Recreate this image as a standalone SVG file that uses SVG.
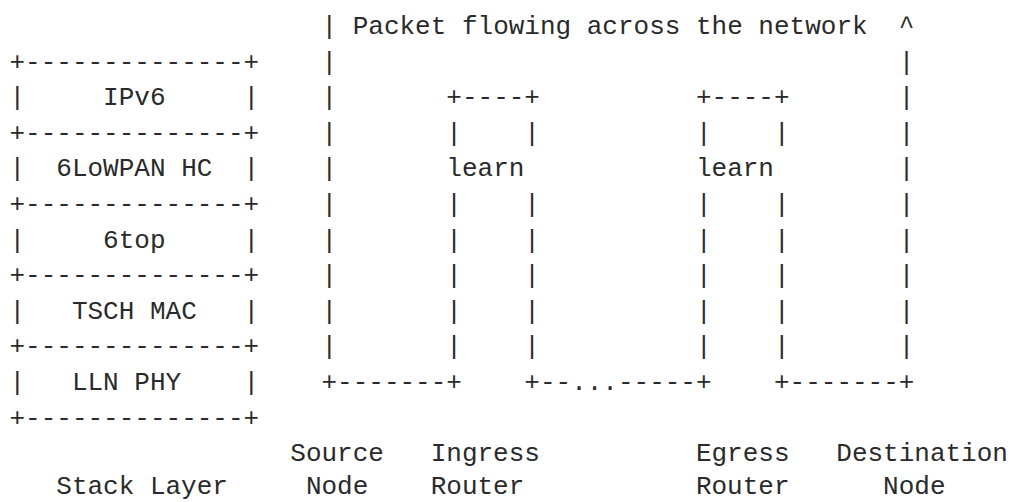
<svg xmlns="http://www.w3.org/2000/svg" width="1011" height="502" viewBox="0 0 1011 502">
<style>
text{font-family:"Liberation Mono","DejaVu Sans Mono",monospace;font-size:26px;fill:#2a2a2a;white-space:pre}
</style>
<rect width="1011" height="502" fill="#ffffff"/>
<g id="stack-layer" xml:space="preserve">
<text x="9.5" y="69.6">+--------------+</text>
<text x="9.5" y="105.2">|     IPv6     |</text>
<text x="9.5" y="140.8">+--------------+</text>
<text x="9.5" y="176.4">|  6LoWPAN HC  |</text>
<text x="9.5" y="212">+--------------+</text>
<text x="9.5" y="247.6">|     6top     |</text>
<text x="9.5" y="283.2">+--------------+</text>
<text x="9.5" y="318.8">|   TSCH MAC   |</text>
<text x="9.5" y="354.4">+--------------+</text>
<text x="9.5" y="390">|   LLN PHY    |</text>
<text x="9.5" y="425.6">+--------------+</text>
<text x="56.3" y="494">Stack Layer</text>
</g>
<g id="connectors" xml:space="preserve">
<text x="321.5" y="34">| Packet flowing across the network  ^</text>
<text x="321.5" y="69.6">|                                    |</text>
<text x="321.5" y="105.2">|       +----+          +----+       |</text>
<text x="321.5" y="140.8">|       |    |          |    |       |</text>
<text x="321.5" y="176.4">|       learn           learn        |</text>
<text x="321.5" y="212">|       |    |          |    |       |</text>
<text x="321.5" y="247.6">|       |    |          |    |       |</text>
<text x="321.5" y="283.2">|       |    |          |    |       |</text>
<text x="321.5" y="318.8">|       |    |          |    |       |</text>
<text x="321.5" y="354.4">|       |    |          |    |       |</text>
<text x="321.5" y="390">+-------+    +--...-----+    +-------+</text>
</g>
<g id="source-node">
<text x="290.3" y="460.5">Source</text>
<text x="305.9" y="494">Node</text>
</g>
<g id="ingress-router">
<text x="430.7" y="460.5">Ingress</text>
<text x="430.7" y="494">Router</text>
</g>
<g id="egress-router">
<text x="695.9" y="460.5">Egress</text>
<text x="695.9" y="494">Router</text>
</g>
<g id="destination-node">
<text x="836.3" y="460.5">Destination</text>
<text x="883.1" y="494">Node</text>
</g>
</svg>
